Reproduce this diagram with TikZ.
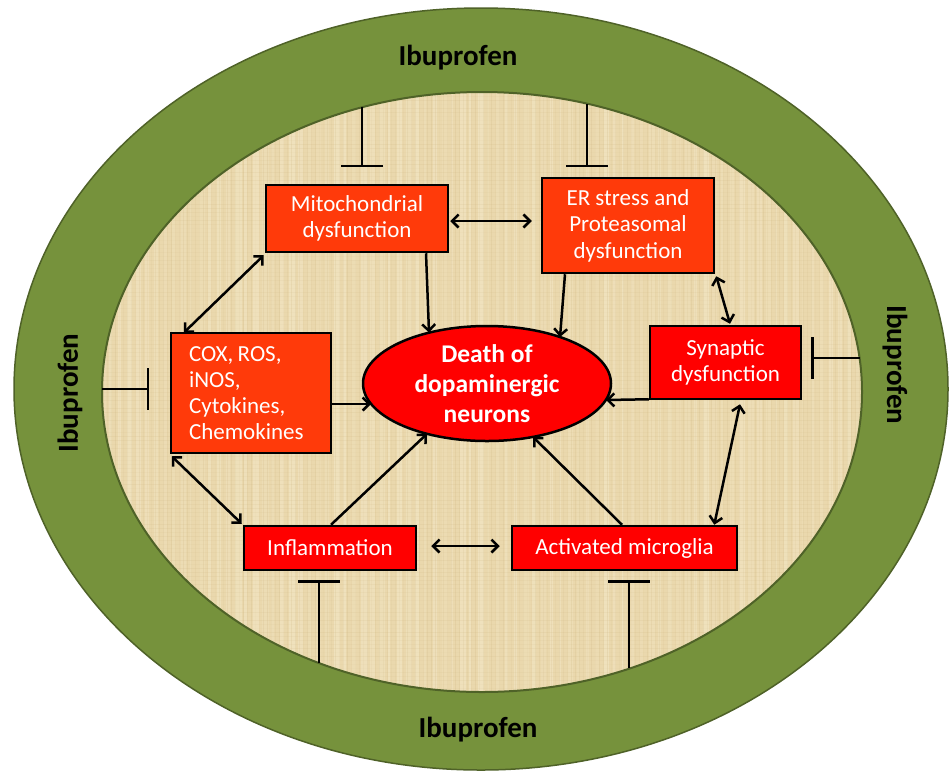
\documentclass[tikz,border=0pt]{standalone}
\usepackage{fontspec}
\setmainfont{Carlito}
\usetikzlibrary{arrows.meta,shapes.geometric}
\definecolor{ringgreen}{HTML}{76923C}
\definecolor{ringedge}{HTML}{4F6228}
\definecolor{papyrus}{HTML}{EAD8AD}
\definecolor{papyruslight}{HTML}{F3E7C6}
\definecolor{papyrusdark}{HTML}{C9B07A}
\definecolor{boxorange}{HTML}{FF3A0A}
\definecolor{boxred}{HTML}{FF0000}
\tikzset{
  orangebox/.style={draw=black,line width=2.5pt,fill=boxorange,text=white,rectangle,inner sep=0pt,align=center,
    font=\frenchspacing\fontsize{23}{26.5}\selectfont},
  redbox/.style={orangebox,fill=boxred},
  ibulabel/.style={font=\bfseries\fontsize{29}{32}\selectfont,text=black,inner sep=0pt},
  dbl/.style={line width=2.5pt,{Straight Barb[length=6.5pt,width=13pt]}-{Straight Barb[length=6.5pt,width=13pt]}},
  one/.style={line width=2.5pt,-{Straight Barb[length=6.5pt,width=13pt]}},
  inh/.style={line width=2.5pt,-{Bar[width=42pt]}},
}
\begin{document}
\begin{tikzpicture}[x=1pt,y=-1pt]
\useasboundingbox (0,0) rectangle (952,772);
% rings
\fill[white] (0,0) rectangle (952,772);
\draw[fill=ringgreen,draw=ringedge,line width=1.5pt] (481,389) ellipse [x radius=467,y radius=381];
\fill[papyrus] (482,392) ellipse [x radius=380,y radius=300];
\begin{scope}
  \clip (482,392) ellipse [x radius=380,y radius=300];
  \pgfmathsetseed{7}
  \foreach \x in {100,109,...,865}{
    \pgfmathsetmacro\w{2+5*rnd}
    \pgfmathsetmacro\op{0.2+0.45*rnd}
    \fill[papyruslight,opacity=\op] (\x,88) rectangle (\x+\w,700);
  }
  \foreach \x in {103,107,...,865}{
    \pgfmathsetmacro\op{0.04+0.15*rnd}
    \draw[papyrusdark,opacity=\op,line width=0.5pt] (\x,88) -- (\x,700);
  }
  \foreach \y in {92,96,...,700}{
    \pgfmathsetmacro\op{0.03+0.12*rnd}
    \draw[papyrusdark,opacity=\op,line width=0.5pt] (100,\y) -- (865,\y);
  }
\end{scope}
\draw[ringedge,line width=2pt] (482,392) ellipse [x radius=380,y radius=300];

% Ibuprofen labels
\node[ibulabel] (ibutop) at (458,58) {Ibuprofen};
\node[ibulabel] (ibubot) at (478,730) {Ibuprofen};
\node[ibulabel,rotate=90] (ibuleft) at (70,393) {Ibuprofen};
\node[ibulabel,rotate=-90] (iburight) at (895,365) {Ibuprofen};

% boxes
\node[orangebox,minimum width=182pt,minimum height=67pt] (mito) at (357,218.5) {Mitochondrial\\dysfunction};
\node[orangebox,minimum width=160pt,minimum height=120pt,text width=124pt,inner xsep=18pt,align=left,
      font=\frenchspacing\fontsize{23}{26}\selectfont] (cox) at (251,393) {\spaceskip=4.5pt\relax COX, ROS,\\iNOS,\\Cytokines,\\Chemokines};
\node[orangebox,minimum width=172pt,minimum height=95pt] (er) at (628,225.5) {ER stress and\\Proteasomal\\dysfunction};
\node[redbox,minimum width=151pt,minimum height=73pt] (syn) at (725.5,362.5) {Synaptic\\dysfunction};
\node[redbox,minimum width=172pt,minimum height=44pt] (infl) at (330,548) {Inflammation};
\node[redbox,minimum width=225pt,minimum height=44pt] (mic) at (624.5,548) {Activated microglia};
\node[ellipse,draw=black,line width=2.5pt,fill=boxred,minimum width=248pt,minimum height=115pt,inner sep=0pt] (death) at (487,383.5) {};
\node[text=white,font=\bfseries\fontsize{25.5}{30}\selectfont,align=center,inner sep=0pt] (deathtext) at (487,384) {Death of\\dopaminergic\\neurons};

% arrows
\draw[dbl] ([shift={(1,2.5)}]mito.east) -- ([shift={(-9,-4.5)}]er.west);
\draw[one] ([shift={(69,0)}]mito.south) -- ([shift={(-58,-51)}]death.center);
\draw[one] ([shift={(-63,0)}]er.south) -- ([shift={(73,-46.5)}]death.center);
\draw[dbl] ([shift={(1,2)}]er.south east) -- ([shift={(4.5,-1)}]syn.north);
\draw[one] ([shift={(0,-1)}]syn.south west) -- ([shift={(119,16.5)}]death.center);
\draw[one] ([shift={(0,11)}]cox.east) -- ([shift={(-116,20.5)}]death.center);
\draw[dbl] ([shift={(-1,2)}]mito.south west) -- ([shift={(14,1)}]cox.north west);
\draw[dbl] ([shift={(2,2)}]cox.south west) -- ([shift={(-1,-1)}]infl.north west);
\draw[one] ([shift={(1,0)}]infl.north) -- ([shift={(-60,50.3)}]death.center);
\draw[one] ([shift={(-2.5,0)}]mic.north) -- ([shift={(46,53.4)}]death.center);
\draw[dbl] ([shift={(14,-2)}]infl.east) -- ([shift={(-11,-2)}]mic.west);
\draw[dbl] ([shift={(14.5,4)}]syn.south) -- ([shift={(-24,0)}]mic.north east);

% inhibitors
\coordinate (inT1) at (362,107);  \coordinate (barT1) at (362,167);
\coordinate (inT2) at (587,104);  \coordinate (barT2) at (587,167);
\coordinate (inL)  at (102,389);  \coordinate (barL)  at (149,389);
\coordinate (inR)  at (860,358);  \coordinate (barR)  at (811,358);
\coordinate (inB1) at (319,663);  \coordinate (barB1) at (319,580);
\coordinate (inB2) at (629,668);  \coordinate (barB2) at (629,580);
\draw[inh] (inT1) -- (barT1);
\draw[inh] (inT2) -- (barT2);
\draw[inh] (inL) -- (barL);
\draw[inh] (inR) -- (barR);
\draw[inh] (inB1) -- (barB1);
\draw[inh] (inB2) -- (barB2);
\end{tikzpicture}
\end{document}
